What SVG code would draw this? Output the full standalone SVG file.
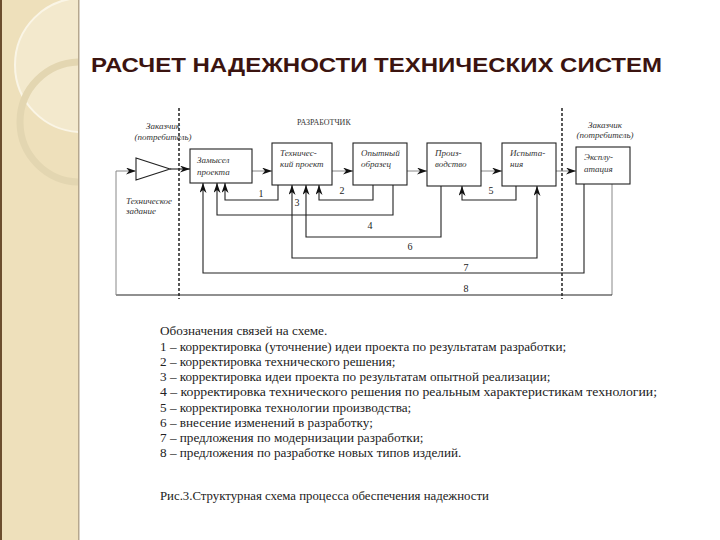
<svg xmlns="http://www.w3.org/2000/svg" width="720" height="540" viewBox="0 0 720 540">
<defs>
<style>
.box{fill:#fff;stroke:#222;stroke-width:1.1}
.ln{fill:none;stroke:#222;stroke-width:1.1}
.lg{fill:none;stroke:#888;stroke-width:1}
.dash{fill:none;stroke:#222;stroke-width:1.5;stroke-dasharray:3 2}
.bt{font-family:"Liberation Serif","DejaVu Serif",serif;font-style:italic;font-size:9px;fill:#333}
.num{font-family:"Liberation Serif","DejaVu Serif",serif;font-size:10px;fill:#222}
.leg{font-family:"Liberation Serif","DejaVu Serif",serif;font-size:13.2px;fill:#222}
.title{font-family:"Liberation Sans",Arial,sans-serif;font-weight:bold;font-size:21px;fill:#3b1410}
</style>
<clipPath id="strip"><rect x="0" y="0" width="78" height="540"/></clipPath>
<marker id="ah" viewBox="0 0 10 7" markerWidth="10" markerHeight="7" refX="10" refY="3.5" orient="auto-start-reverse" markerUnits="userSpaceOnUse">
<path d="M0,0 L10,3.5 L0,7 L3,3.5 z" fill="#111"/>
</marker>
</defs>
<rect width="720" height="540" fill="#fff"/>
<g id="sidebar">
<rect x="0" y="0" width="79" height="540" fill="#eee0bb"/>
<g clip-path="url(#strip)">
<circle cx="82" cy="65" r="67" fill="#f3e9cd" stroke="#faf5e6" stroke-width="2"/>
<circle cx="80" cy="122" r="60" fill="none" stroke="#e3d6b1" stroke-width="7"/>
</g>
<rect x="0" y="0" width="2" height="540" fill="#6b4e2e"/>
<rect x="78" y="0" width="1.5" height="540" fill="#b5a78e"/>
</g>
<text class="title" x="91" y="72" textLength="571" lengthAdjust="spacingAndGlyphs">РАСЧЕТ НАДЕЖНОСТИ ТЕХНИЧЕСКИХ СИСТЕМ</text>
<g id="boundaries">
<line class="dash" x1="179" y1="108" x2="179" y2="299"/>
<line class="dash" x1="562" y1="108" x2="562" y2="299"/>
<text class="bt" x="297" y="125" style="font-style:normal;font-size:8px">РАЗРАБОТЧИК</text>
<text class="bt" x="163" y="129" text-anchor="middle">Заказчик</text>
<text class="bt" x="163" y="140" text-anchor="middle">(потребитель)</text>
<text class="bt" x="126" y="204">Техническое</text>
<text class="bt" x="126" y="214">задание</text>
<text class="bt" x="605" y="128" text-anchor="middle">Заказчик</text>
<text class="bt" x="605" y="138" text-anchor="middle">(потребитель)</text>
</g>
<g id="connectors">
<polygon points="136,158 136,180 170,169" fill="#fff" stroke="#222" stroke-width="1.1"/>
<path class="lg" d="M612,184 V295"/>
<path class="ln" d="M612,295 H116"/>
<path class="lg" d="M116,295 V171 H136" marker-end="url(#ah)"/>
<path class="ln" d="M170,169 H190" marker-end="url(#ah)"/>
<path class="lg" d="M252,171 H272" marker-end="url(#ah)"/>
<path class="lg" d="M332,171 H353" marker-end="url(#ah)"/>
<path class="lg" d="M407,171 H427" marker-end="url(#ah)"/>
<path class="lg" d="M481,171 H502" marker-end="url(#ah)"/>
<path class="lg" d="M556,171 H576" marker-end="url(#ah)"/>
<path class="ln" d="M278,185 V200 H225 V183" marker-end="url(#ah)"/>
<path class="ln" d="M373,185 V200 H319 V185" marker-end="url(#ah)"/>
<path class="ln" d="M393,185 V215 H217 V183" marker-end="url(#ah)"/>
<path class="ln" d="M441,186 V237 H306 V185" marker-end="url(#ah)"/>
<path class="ln" d="M516,186 V200 H462 V186" marker-end="url(#ah)"/>
<path class="ln" d="M292,185 V258 H537 V186" marker-start="url(#ah)" marker-end="url(#ah)"/>
<path class="ln" d="M584,184 V273 H203 V183" marker-end="url(#ah)"/>
<text class="num" x="261" y="197" text-anchor="middle">1</text>
<text class="num" x="342" y="194" text-anchor="middle">2</text>
<text class="num" x="297" y="206" text-anchor="middle">3</text>
<text class="num" x="370" y="229" text-anchor="middle">4</text>
<text class="num" x="491" y="194" text-anchor="middle">5</text>
<text class="num" x="410" y="250" text-anchor="middle">6</text>
<text class="num" x="466" y="271" text-anchor="middle">7</text>
<text class="num" x="466" y="292" text-anchor="middle">8</text>
</g>
<g id="n1"><rect class="box" x="190" y="149" width="62" height="34"/><text class="bt" x="197" y="163">Замысел</text><text class="bt" x="197" y="175">проекта</text></g>
<g id="n2"><rect class="box" x="272" y="143" width="60" height="42"/><text class="bt" x="280" y="156">Техничес-</text><text class="bt" x="280" y="167">кий проект</text></g>
<g id="n3"><rect class="box" x="353" y="143" width="54" height="42"/><text class="bt" x="361" y="156">Опытный</text><text class="bt" x="361" y="167">образец</text></g>
<g id="n4"><rect class="box" x="427" y="143" width="54" height="43"/><text class="bt" x="435" y="156">Произ-</text><text class="bt" x="435" y="167">водство</text></g>
<g id="n5"><rect class="box" x="502" y="143" width="54" height="43"/><text class="bt" x="510" y="156">Испыта-</text><text class="bt" x="510" y="167">ния</text></g>
<g id="n6"><rect class="box" x="576" y="147" width="54" height="37"/><text class="bt" x="584" y="160">Эксплу-</text><text class="bt" x="584" y="172">атация</text></g>
<g id="legend">
<text class="leg" x="160" y="335">Обозначения связей на схеме.</text>
<text class="leg" x="160" y="351">1 – корректировка (уточнение) идеи проекта по результатам разработки;</text>
<text class="leg" x="160" y="366">2 – корректировка технического решения;</text>
<text class="leg" x="160" y="381">3 – корректировка идеи проекта по результатам опытной реализации;</text>
<text class="leg" x="160" y="396" textLength="497" lengthAdjust="spacingAndGlyphs">4 – корректировка технического решения по реальным характеристикам технологии;</text>
<text class="leg" x="160" y="412">5 – корректировка технологии производства;</text>
<text class="leg" x="160" y="427">6 – внесение изменений в разработку;</text>
<text class="leg" x="160" y="442">7 – предложения по модернизации разработки;</text>
<text class="leg" x="160" y="457">8 – предложения по разработке новых типов изделий.</text>
<text class="leg" x="160" y="500" style="font-size:12.8px">Рис.3.Структурная схема процесса обеспечения надежности</text>
</g>
</svg>
